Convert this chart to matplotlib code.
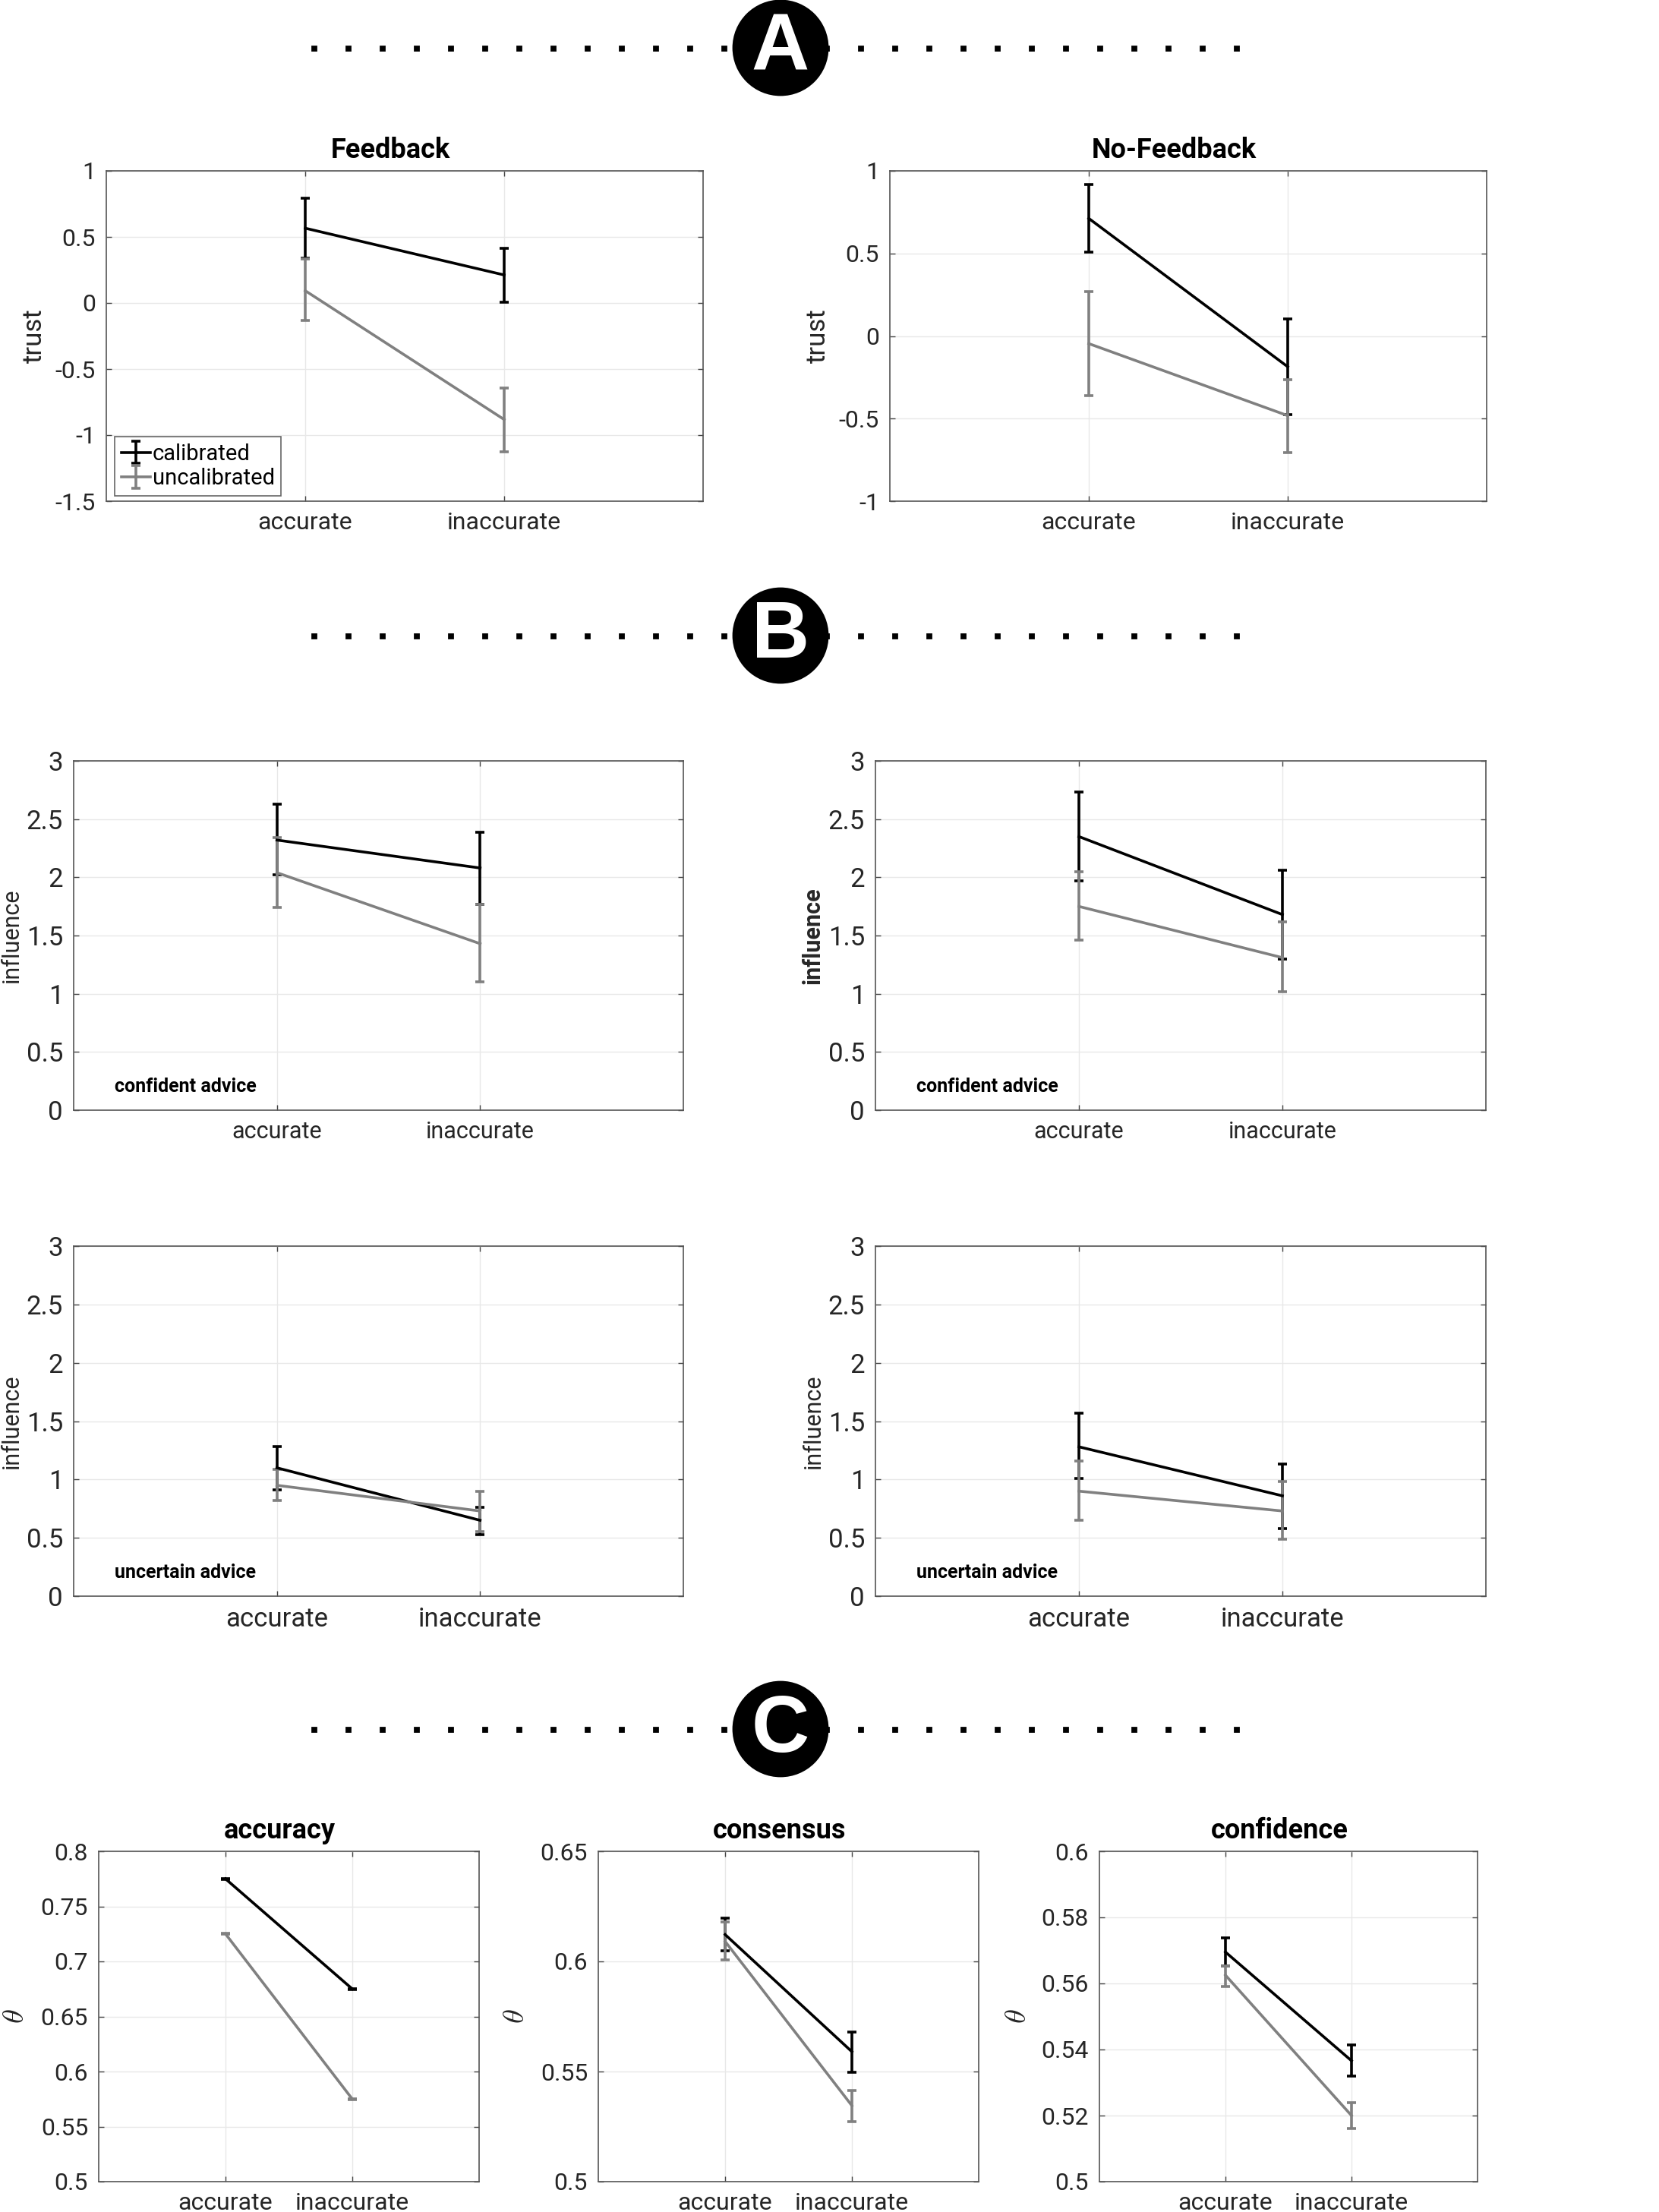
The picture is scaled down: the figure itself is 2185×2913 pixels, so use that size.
import numpy as np
import matplotlib
matplotlib.use("Agg")
import matplotlib.pyplot as plt
from matplotlib.patches import Circle
from matplotlib.ticker import FuncFormatter

plt.rcParams['font.family'] = ['Roboto', 'DejaVu Sans']
plt.rcParams['mathtext.fontset'] = 'cm'

W, H, DPI = 2185, 2913, 200

categories = ["accurate", "inaccurate"]
series_names = ["calibrated", "uncalibrated"]

# --- panel A: trust ---
fb_trust_cal = [0.566, 0.212]
fb_trust_cal_lo = [0.341, 0.003]
fb_trust_cal_hi = [0.794, 0.415]
fb_trust_unc = [0.093, -0.882]
fb_trust_unc_lo = [-0.132, -1.129]
fb_trust_unc_hi = [0.335, -0.643]

nfb_trust_cal = [0.712, -0.186]
nfb_trust_cal_lo = [0.506, -0.477]
nfb_trust_cal_hi = [0.918, 0.102]
nfb_trust_unc = [-0.046, -0.482]
nfb_trust_unc_lo = [-0.363, -0.707]
nfb_trust_unc_hi = [0.271, -0.265]

# --- panel B: influence ---
fb_conf_cal = [2.32, 2.08]
fb_conf_cal_lo = [2.02, 1.77]
fb_conf_cal_hi = [2.63, 2.39]
fb_conf_unc = [2.04, 1.43]
fb_conf_unc_lo = [1.74, 1.10]
fb_conf_unc_hi = [2.34, 1.77]

nfb_conf_cal = [2.35, 1.68]
nfb_conf_cal_lo = [1.97, 1.30]
nfb_conf_cal_hi = [2.73, 2.06]
nfb_conf_unc = [1.75, 1.31]
nfb_conf_unc_lo = [1.46, 1.02]
nfb_conf_unc_hi = [2.05, 1.62]

fb_unc_cal = [1.10, 0.65]
fb_unc_cal_lo = [0.91, 0.53]
fb_unc_cal_hi = [1.28, 0.76]
fb_unc_unc = [0.95, 0.73]
fb_unc_unc_lo = [0.82, 0.55]
fb_unc_unc_hi = [1.09, 0.90]

nfb_unc_cal = [1.28, 0.86]
nfb_unc_cal_lo = [1.01, 0.58]
nfb_unc_cal_hi = [1.57, 1.13]
nfb_unc_unc = [0.90, 0.73]
nfb_unc_unc_lo = [0.65, 0.49]
nfb_unc_unc_hi = [1.16, 0.98]

# --- panel C: theta ---
acc_cal = [0.775, 0.675]
acc_cal_lo = [0.7745, 0.6745]
acc_cal_hi = [0.7755, 0.6755]
acc_unc = [0.725, 0.575]
acc_unc_lo = [0.7245, 0.5745]
acc_unc_hi = [0.7255, 0.5755]

cons_cal = [0.6122, 0.559]
cons_cal_lo = [0.605, 0.5498]
cons_cal_hi = [0.6197, 0.5679]
cons_unc = [0.6091, 0.5345]
cons_unc_lo = [0.6007, 0.5271]
cons_unc_hi = [0.6178, 0.5414]

conf_cal = [0.5695, 0.5366]
conf_cal_lo = [0.5652, 0.5319]
conf_cal_hi = [0.5737, 0.5413]
conf_unc = [0.5625, 0.520]
conf_unc_lo = [0.559, 0.5162]
conf_unc_hi = [0.5653, 0.5238]

TXT = "#262626"
GRAY = "#808080"

fig = plt.figure(figsize=(W / DPI, H / DPI), dpi=DPI)
fig.patch.set_facecolor("white")


def make_axes(l, t, r, b):
    return fig.add_axes([l / W, 1 - b / H, (r - l) / W, (b - t) / H])


def fmt(v, _):
    s = f"{v:.10g}"
    if s == "-0":
        s = "0"
    return s


def draw(ax, cal, cal_lo, cal_hi, unc, unc_lo, unc_hi, yticks, ylabel,
         ylabel_x, title=None, bold_ylabel=False, note=None,
         ysize=11.5, xsize=11.5, labsize=11):
    x = np.arange(1, len(categories) + 1)
    for m, lo, hi, col, name in [(cal, cal_lo, cal_hi, "black", series_names[0]),
                                 (unc, unc_lo, unc_hi, GRAY, series_names[1])]:
        m = np.array(m)
        yerr = [m - np.array(lo), np.array(hi) - m]
        ax.errorbar(x, m, yerr=yerr, color=col, lw=1.3, elinewidth=1.3,
                    capsize=2.3, capthick=1.3, label=name, zorder=3)
    ax.set_xlim(0, 3)
    ax.set_ylim(yticks[0], yticks[-1])
    ax.set_xticks(x)
    ax.set_xticklabels(categories)
    ax.set_yticks(yticks)
    ax.yaxis.set_major_formatter(FuncFormatter(fmt))
    ax.grid(True, color="#e8e8e8", lw=0.5, zorder=0)
    ax.tick_params(direction="in", top=True, right=True, length=2.5,
                   width=0.5, color="#444444", labelcolor=TXT, pad=5)
    ax.tick_params(axis="y", labelsize=ysize)
    ax.tick_params(axis="x", labelsize=xsize)
    for sp in ax.spines.values():
        sp.set_color("#555555")
        sp.set_linewidth(0.6)
    ax.set_ylabel(ylabel, fontsize=labsize, color=TXT,
                  fontweight="bold" if bold_ylabel else "normal")
    ax.yaxis.set_label_coords(ylabel_x, 0.5)
    if title:
        ax.set_title(title, fontsize=13, fontweight="bold", pad=6, x=0.476)
    if note:
        ax.text(0.2, yticks[0] + 0.2, note, fontsize=9, fontweight="bold",
                va="center", ha="left")


# panel A
axA1 = make_axes(140, 225, 926, 660)
draw(axA1, fb_trust_cal, fb_trust_cal_lo, fb_trust_cal_hi,
     fb_trust_unc, fb_trust_unc_lo, fb_trust_unc_hi,
     np.arange(-1.5, 1.01, 0.5), "trust", -0.099, title="Feedback",
     labsize=12.5)
leg = axA1.legend(loc="lower left", bbox_to_anchor=(0.014, 0.016),
                  borderaxespad=0, fontsize=10.5, handlelength=1.3,
                  handletextpad=0.1, borderpad=0.3, labelspacing=0.15,
                  fancybox=False, framealpha=1)
leg.get_frame().set_edgecolor("#666666")
leg.get_frame().set_linewidth(0.6)

axA2 = make_axes(1172, 225, 1958, 660)
draw(axA2, nfb_trust_cal, nfb_trust_cal_lo, nfb_trust_cal_hi,
     nfb_trust_unc, nfb_trust_unc_lo, nfb_trust_unc_hi,
     np.arange(-1, 1.01, 0.5), "trust", -0.1, title="No-Feedback",
     labsize=12.5)

# panel B
b_ticks = np.arange(0, 3.01, 0.5)
axB1 = make_axes(97, 1002, 900, 1462)
draw(axB1, fb_conf_cal, fb_conf_cal_lo, fb_conf_cal_hi,
     fb_conf_unc, fb_conf_unc_lo, fb_conf_unc_hi,
     b_ticks, "influence", -0.083, note="confident advice",
     ysize=12.5, xsize=11)
axB2 = make_axes(1153, 1002, 1957, 1462)
draw(axB2, nfb_conf_cal, nfb_conf_cal_lo, nfb_conf_cal_hi,
     nfb_conf_unc, nfb_conf_unc_lo, nfb_conf_unc_hi,
     b_ticks, "influence", -0.084, bold_ylabel=True, note="confident advice",
     ysize=12.5, xsize=11)
axB3 = make_axes(97, 1641, 900, 2102)
draw(axB3, fb_unc_cal, fb_unc_cal_lo, fb_unc_cal_hi,
     fb_unc_unc, fb_unc_unc_lo, fb_unc_unc_hi,
     b_ticks, "influence", -0.083, note="uncertain advice",
     ysize=12.5, xsize=12.5)
axB4 = make_axes(1153, 1641, 1957, 2102)
draw(axB4, nfb_unc_cal, nfb_unc_cal_lo, nfb_unc_cal_hi,
     nfb_unc_unc, nfb_unc_unc_lo, nfb_unc_unc_hi,
     b_ticks, "influence", -0.084, note="uncertain advice",
     ysize=12.5, xsize=12.5)

# panel C
axC1 = make_axes(130, 2438, 631, 2873)
draw(axC1, acc_cal, acc_cal_lo, acc_cal_hi, acc_unc, acc_unc_lo, acc_unc_hi,
     np.round(np.arange(0.5, 0.801, 0.05), 2), r"$\theta$", -0.182,
     title="accuracy", labsize=14)
axC2 = make_axes(788, 2438, 1289, 2873)
draw(axC2, cons_cal, cons_cal_lo, cons_cal_hi, cons_unc, cons_unc_lo,
     cons_unc_hi, np.round(np.arange(0.5, 0.651, 0.05), 2), r"$\theta$",
     -0.18, title="consensus", labsize=14)
axC3 = make_axes(1448, 2438, 1946, 2873)
draw(axC3, conf_cal, conf_cal_lo, conf_cal_hi, conf_unc, conf_unc_lo,
     conf_unc_hi, np.round(np.arange(0.5, 0.601, 0.02), 2), r"$\theta$",
     -0.179, title="confidence", labsize=14)

# section headers
hdr = fig.add_axes([0, 0, 1, 1], zorder=-1)
hdr.set_xlim(0, W)
hdr.set_ylim(H, 0)
hdr.axis("off")
dot_x = 413 + 45 * np.arange(28)
for letter, yc in [("A", 63), ("B", 837), ("C", 2277)]:
    hdr.plot(dot_x, np.full_like(dot_x, yc, dtype=float), ls="none",
             marker="s", ms=1.8, color="black")
    hdr.add_patch(Circle((1028, yc), 62, facecolor="black",
                         edgecolor="black", zorder=3))
    hdr.text(1028, yc + 2, letter, color="white", fontsize=38,
             fontweight="bold", family=["Liberation Sans", "DejaVu Sans"],
             ha="center", va="center", zorder=4)

fig.savefig("out.png", dpi=DPI, facecolor="white")
